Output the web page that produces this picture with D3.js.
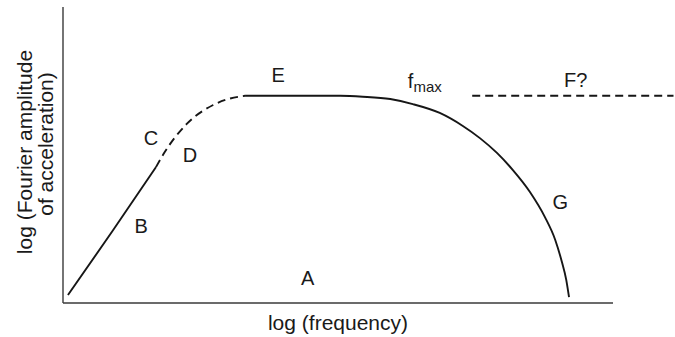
<!DOCTYPE html>
<html>
<head>
<meta charset="utf-8">
<script src="https://cdn.jsdelivr.net/npm/d3@7"></script>
<style>
  html, body { margin: 0; padding: 0; background: #fff; }
  svg { display: block; }
  text { font-family: "Liberation Sans", Arial, Helvetica, sans-serif; fill: #1a1a1a; }
</style>
</head>
<body>
<svg id="chart" width="675" height="337"></svg>
<script>
// Schematic Fourier amplitude spectrum, log-log, arbitrary units (0–10 on each axis)

// Low-frequency rise (omega-squared slope), solid
const riseX = [0.09, 0.90, 1.69];
const riseY = [0.27, 2.43, 4.59];

// Corner region, uncertain shape (dashed)
const kneeX = [1.69, 1.85, 2.25, 2.73, 3.04, 3.31];
const kneeY = [4.59, 5.10, 6.05, 6.69, 6.91, 7.00];

// Plateau and high-frequency decay beyond fmax, solid
const decayX = [3.31, 4.20, 5.04, 5.45, 5.95, 6.36, 6.85, 7.27, 7.58, 7.89, 8.18, 8.49, 8.76, 8.95, 9.07, 9.15, 9.20];
const decayY = [7.00, 7.00, 7.00, 6.97, 6.89, 6.72, 6.42, 5.98, 5.57, 5.07, 4.49, 3.75, 2.91, 2.13, 1.39, 0.78, 0.20];

// Possible flat continuation (F?), dashed
const flatX = [7.44, 11.1];
const flatY = [7.00, 7.00];

// Region letters
const letterText = ["A", "B", "C", "D", "E", "G", "F?"];
const letterX    = [4.45, 1.42, 1.60, 2.31, 3.91, 9.04, 9.32];
const letterY    = [0.61, 2.36, 5.34, 4.76, 7.47, 3.18, 7.30];

const xLabel = "log (frequency)";
const yLabelLines = ["log (Fourier amplitude", "of acceleration)"];

const svg = d3.select("#chart");
const margin = { left: 63, right: 62, top: 7, bottom: 34 };
const W = 675, H = 337;

const x = d3.scaleLinear().domain([0, 10]).range([margin.left, W - margin.right]);
const y = d3.scaleLinear().domain([0, 10]).range([H - margin.bottom, margin.top]);

// Axes: plain lines, no ticks
const axisColor = "#3a3a3a";
svg.append("line")
  .attr("x1", x(0)).attr("x2", x(0))
  .attr("y1", y(10)).attr("y2", y(0))
  .attr("stroke", axisColor).attr("stroke-width", 1.4);
svg.append("line")
  .attr("x1", x(0)).attr("x2", x(10))
  .attr("y1", y(0)).attr("y2", y(0))
  .attr("stroke", axisColor).attr("stroke-width", 1.4);

const zip = (xs, ys) => xs.map((v, i) => [v, ys[i]]);
const smooth = d3.line().x(d => x(d[0])).y(d => y(d[1])).curve(d3.curveMonotoneX);

const curveColor = "#161616";
function segment(pts, dashed) {
  svg.append("path")
    .attr("d", smooth(pts))
    .attr("fill", "none")
    .attr("stroke", curveColor)
    .attr("stroke-width", 1.9)
    .attr("stroke-dasharray", dashed ? "8,5" : null);
}
segment(zip(riseX, riseY), false);
segment(zip(kneeX, kneeY), true);
segment(zip(decayX, decayY), false);
segment(zip(flatX, flatY), true);

// Region letters
const fs = 20;
svg.selectAll("text.letter")
  .data(letterText)
  .join("text")
  .attr("class", "letter")
  .attr("x", (d, i) => x(letterX[i]))
  .attr("y", (d, i) => y(letterY[i]))
  .attr("text-anchor", "middle")
  .attr("font-size", fs)
  .text(d => d);

// f_max with subscript
const fmax = svg.append("text")
  .attr("x", x(6.27)).attr("y", y(7.26))
  .attr("font-size", fs);
fmax.append("tspan").text("f");
fmax.append("tspan").attr("font-size", 15).attr("dy", 4).text("max");

// Axis titles
const titleSize = 21;
svg.append("text")
  .attr("x", 338)
  .attr("y", 330)
  .attr("text-anchor", "middle")
  .attr("font-size", titleSize)
  .text(xLabel);

const yCenters = [152, 144];
const yBaselines = [32, 53];
yLabelLines.forEach((t, i) => {
  svg.append("text")
    .attr("transform", `translate(${yBaselines[i]},${yCenters[i]}) rotate(-90)`)
    .attr("text-anchor", "middle")
    .attr("font-size", titleSize)
    .text(t);
});
</script>
</body>
</html>
